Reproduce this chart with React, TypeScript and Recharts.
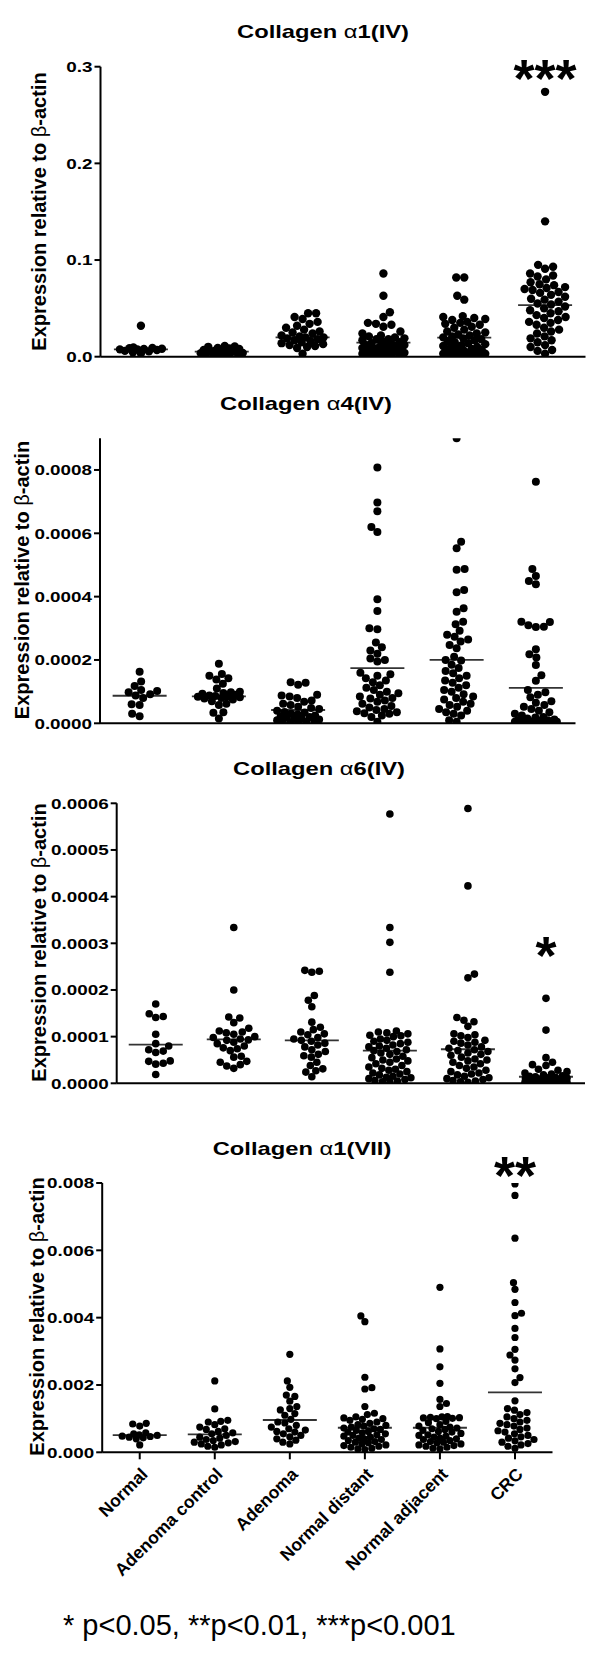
import React from 'react';
import { ScatterChart, Scatter, XAxis, YAxis, ReferenceLine, ReferenceDot } from 'recharts';

// ---------------- DATA ----------------
const CATEGORIES = ['Normal', 'Adenoma control', 'Adenoma', 'Normal distant', 'Normal adjacent', 'CRC'];

// Collagen α1(IV) – raw values
const ALPHA1_IV: number[][] = [
  [0.032, 0.0095, 0.009, 0.0088, 0.0082, 0.008, 0.0076, 0.0075, 0.007, 0.006, 0.0055, 0.0045, 0.0032],
  [0.011, 0.0105, 0.0102, 0.009, 0.0085, 0.008, 0.007, 0.0065, 0.006, 0.0055, 0.005, 0.0045, 0.004, 0.0038, 0.0035, 0.003, 0.003, 0.0025, 0.002, 0.002],
  [0.045, 0.045, 0.041, 0.039, 0.036, 0.034, 0.032, 0.03, 0.028, 0.026, 0.025, 0.024, 0.022, 0.021, 0.02, 0.02, 0.019, 0.018, 0.017, 0.016, 0.015, 0.014, 0.013, 0.012, 0.011, 0.01, 0.009, 0.003],
  [0.086, 0.063, 0.046, 0.041, 0.035, 0.034, 0.033, 0.031, 0.026, 0.024, 0.022, 0.021, 0.02, 0.019, 0.018, 0.018, 0.017, 0.016, 0.015, 0.014, 0.013, 0.012, 0.012, 0.011, 0.01, 0.01, 0.009, 0.009, 0.008, 0.008, 0.007, 0.007, 0.006, 0.006, 0.005, 0.005, 0.004, 0.004, 0.004, 0.003, 0.003, 0.002, 0.002, 0.002, 0.001],
  [0.082, 0.082, 0.063, 0.059, 0.042, 0.041, 0.04, 0.039, 0.038, 0.036, 0.035, 0.034, 0.033, 0.031, 0.03, 0.028, 0.026, 0.025, 0.024, 0.023, 0.022, 0.021, 0.02, 0.019, 0.018, 0.017, 0.016, 0.015, 0.014, 0.013, 0.012, 0.011, 0.01, 0.009, 0.008, 0.008, 0.007, 0.006, 0.006, 0.005, 0.005, 0.004, 0.004, 0.003, 0.003, 0.002, 0.002, 0.001, 0.001, 0.001],
  [0.274, 0.14, 0.095, 0.093, 0.091, 0.086, 0.084, 0.083, 0.08, 0.077, 0.075, 0.074, 0.072, 0.071, 0.07, 0.069, 0.067, 0.066, 0.064, 0.062, 0.06, 0.059, 0.057, 0.055, 0.054, 0.052, 0.05, 0.048, 0.047, 0.045, 0.043, 0.041, 0.04, 0.038, 0.036, 0.035, 0.033, 0.03, 0.028, 0.026, 0.024, 0.021, 0.019, 0.017, 0.015, 0.012, 0.01, 0.007, 0.006, 0.003],
];
const ALPHA1_IV_LINES = [0.0076, 0.0052, 0.02, 0.0145, 0.0197, 0.0534];
const ALPHA1_IV_TICKS = [0, 0.1, 0.2, 0.3];

// Collagen α4(IV) – values in units of 1e-4
const ALPHA4_IV_E4: number[][] = [
  [1.63, 1.32, 1.18, 1.05, 1.02, 0.98, 0.92, 0.88, 0.8, 0.6, 0.58, 0.3, 0.22],
  [1.88, 1.56, 1.5, 1.42, 1.38, 1.25, 1.1, 1.0, 0.98, 0.96, 0.93, 0.9, 0.88, 0.86, 0.85, 0.84, 0.82, 0.8, 0.78, 0.75, 0.7, 0.62, 0.58, 0.35, 0.33, 0.15],
  [1.3, 1.28, 1.22, 0.9, 0.88, 0.85, 0.8, 0.72, 0.68, 0.62, 0.58, 0.52, 0.48, 0.45, 0.4, 0.36, 0.34, 0.3, 0.28, 0.25, 0.22, 0.2, 0.18, 0.16, 0.14, 0.12, 0.1, 0.08, 0.06, 0.05, 0.03, 0.02],
  [8.08, 6.97, 6.7, 6.2, 6.04, 3.92, 3.55, 3.0, 2.97, 2.55, 2.4, 2.3, 2.2, 2.05, 2.0, 1.95, 1.6, 1.55, 1.5, 1.42, 1.35, 1.3, 1.2, 1.12, 1.05, 1.0, 0.95, 0.9, 0.85, 0.8, 0.78, 0.72, 0.68, 0.62, 0.55, 0.5, 0.45, 0.42, 0.38, 0.35, 0.32, 0.3, 0.25, 0.2, 0.05],
  [9.0, 5.73, 5.53, 4.87, 4.85, 4.21, 4.14, 3.63, 3.52, 3.21, 3.13, 2.92, 2.8, 2.73, 2.65, 2.58, 2.47, 2.37, 2.1, 2.0, 1.98, 1.85, 1.75, 1.65, 1.58, 1.5, 1.42, 1.35, 1.28, 1.2, 1.12, 1.05, 1.0, 0.92, 0.85, 0.8, 0.75, 0.68, 0.62, 0.58, 0.52, 0.45, 0.4, 0.35, 0.3, 0.25, 0.1, 0.05],
  [7.63, 4.87, 4.65, 4.49, 4.39, 3.21, 3.2, 3.1, 3.05, 3.04, 2.34, 2.18, 2.08, 1.84, 1.52, 1.34, 1.05, 0.98, 0.9, 0.82, 0.7, 0.65, 0.58, 0.52, 0.45, 0.4, 0.35, 0.3, 0.25, 0.2, 0.18, 0.15, 0.12, 0.1, 0.1, 0.08, 0.07, 0.06, 0.05, 0.05, 0.04, 0.03, 0.03, 0.02, 0.02],
];
const ALPHA4_IV_LINES_E4 = [0.87, 0.85, 0.42, 1.74, 2.0, 1.12];
const ALPHA4_IV_TICKS = [0, 0.0002, 0.0004, 0.0006, 0.0008];

// Collagen α6(IV) – values in units of 1e-4
const ALPHA6_IV_E4: number[][] = [
  [1.7, 1.49, 1.43, 1.41, 1.05, 0.85, 0.8, 0.72, 0.69, 0.66, 0.48, 0.47, 0.43, 0.41, 0.19],
  [3.34, 2.0, 1.42, 1.4, 1.3, 1.18, 1.12, 1.1, 1.08, 1.05, 1.0, 0.98, 0.95, 0.93, 0.92, 0.88, 0.85, 0.8, 0.76, 0.74, 0.7, 0.58, 0.56, 0.47, 0.45, 0.4, 0.37, 0.32],
  [2.42, 2.4, 2.38, 1.88, 1.78, 1.64, 1.31, 1.2, 1.15, 1.1, 1.06, 1.04, 0.98, 0.95, 0.92, 0.9, 0.86, 0.82, 0.78, 0.72, 0.68, 0.62, 0.59, 0.56, 0.45, 0.38, 0.31, 0.27, 0.24, 0.14],
  [5.77, 3.34, 3.02, 2.38, 1.12, 1.1, 1.08, 1.06, 1.03, 1.02, 1.0, 0.95, 0.92, 0.9, 0.88, 0.85, 0.82, 0.8, 0.78, 0.75, 0.72, 0.7, 0.68, 0.65, 0.62, 0.58, 0.55, 0.52, 0.5, 0.48, 0.45, 0.42, 0.38, 0.35, 0.32, 0.3, 0.28, 0.25, 0.22, 0.2, 0.18, 0.15, 0.13, 0.12, 0.1, 0.08, 0.06, 0.05, 0.03, 0.02],
  [5.89, 4.23, 2.34, 2.26, 1.41, 1.35, 1.32, 1.22, 1.06, 1.04, 1.02, 0.98, 0.92, 0.9, 0.88, 0.86, 0.82, 0.78, 0.75, 0.72, 0.7, 0.68, 0.65, 0.62, 0.6, 0.56, 0.52, 0.5, 0.48, 0.45, 0.42, 0.38, 0.35, 0.32, 0.28, 0.25, 0.22, 0.2, 0.18, 0.15, 0.12, 0.1, 0.08, 0.06, 0.05, 0.03, 0.02],
  [1.82, 1.14, 0.55, 0.45, 0.4, 0.38, 0.3, 0.28, 0.25, 0.22, 0.2, 0.18, 0.16, 0.15, 0.14, 0.13, 0.12, 0.11, 0.1, 0.09, 0.08, 0.07, 0.06, 0.06, 0.05, 0.05, 0.04, 0.04, 0.03, 0.03, 0.03, 0.02, 0.02, 0.02, 0.01, 0.01, 0.01, 0.01],
];
const ALPHA6_IV_LINES_E4 = [0.83, 0.94, 0.92, 0.7, 0.73, 0.14];
const ALPHA6_IV_TICKS = [0, 0.0001, 0.0002, 0.0003, 0.0004, 0.0005, 0.0006];

// Collagen α1(VII) – values in units of 1e-3
const ALPHA1_VII_E3: number[][] = [
  [0.86, 0.84, 0.78, 0.58, 0.55, 0.52, 0.5, 0.48, 0.47, 0.45, 0.43, 0.4, 0.22],
  [2.12, 1.29, 0.95, 0.92, 0.9, 0.82, 0.75, 0.7, 0.68, 0.62, 0.58, 0.55, 0.5, 0.45, 0.42, 0.38, 0.35, 0.32, 0.3, 0.28, 0.25, 0.22, 0.18, 0.15],
  [2.91, 2.12, 1.93, 1.7, 1.66, 1.52, 1.36, 1.3, 1.26, 1.15, 1.1, 0.98, 0.9, 0.87, 0.8, 0.75, 0.7, 0.66, 0.62, 0.6, 0.55, 0.5, 0.46, 0.4, 0.36, 0.3, 0.25],
  [4.05, 3.88, 2.23, 1.92, 1.88, 1.36, 1.16, 1.12, 1.05, 1.02, 1.0, 0.98, 0.95, 0.9, 0.86, 0.82, 0.8, 0.78, 0.75, 0.72, 0.7, 0.68, 0.65, 0.62, 0.6, 0.58, 0.55, 0.52, 0.5, 0.48, 0.45, 0.42, 0.4, 0.38, 0.35, 0.32, 0.3, 0.28, 0.25, 0.22, 0.2, 0.18, 0.15, 0.12, 0.1, 0.08],
  [4.9, 3.07, 2.54, 2.05, 1.57, 1.45, 1.36, 1.06, 1.05, 1.04, 1.03, 1.02, 1.01, 1.0, 0.92, 0.88, 0.82, 0.78, 0.75, 0.72, 0.7, 0.68, 0.65, 0.62, 0.6, 0.56, 0.52, 0.5, 0.48, 0.45, 0.42, 0.4, 0.38, 0.35, 0.32, 0.3, 0.28, 0.25, 0.22, 0.2, 0.18, 0.15, 0.12, 0.1],
  [7.97, 7.63, 6.36, 5.04, 4.84, 4.45, 4.13, 4.06, 3.68, 3.41, 3.06, 2.89, 2.74, 2.48, 2.22, 2.07, 1.53, 1.3, 1.25, 1.18, 1.12, 1.05, 1.0, 0.95, 0.9, 0.86, 0.82, 0.78, 0.72, 0.68, 0.64, 0.6, 0.55, 0.5, 0.46, 0.42, 0.38, 0.34, 0.3, 0.26, 0.22, 0.18, 0.12],
];
const ALPHA1_VII_LINES_E3 = [0.51, 0.53, 0.96, 0.73, 0.73, 1.78];
const ALPHA1_VII_TICKS = [0, 0.002, 0.004, 0.006, 0.008];

const Y_TITLE = 'Expression relative to ';
const FOOTNOTE = '* p<0.05, **p<0.01, ***p<0.001';

// ---------------- LAYOUT ----------------
const FONT = '"Liberation Sans", Arial, Helvetica, sans-serif';
const Y_AXIS_W = 90;

type Panel = {
  title: [string, string, string];
  groups: number[][];
  lines: number[];
  unit: number;
  max: number;
  ticks: number[];
  digits: number;
  star?: string;
  starY?: number;
  top: number; height: number;
  xL: number; xR: number; yT: number; yB: number;
  r: number; xAxisH: number; cats: boolean;
  titleX: number; titleY: number; labelX: number; labelY: number;
};

const PANELS: Panel[] = [
  {
    title: ['Collagen ', 'α', '1(IV)'], groups: ALPHA1_IV, lines: ALPHA1_IV_LINES, unit: 1, max: 0.3,
    ticks: ALPHA1_IV_TICKS, digits: 1, star: '***', starY: 0.3,
    top: 0, height: 380, xL: 100.5, xR: 585.5, yT: 66.7, yB: 356.7, r: 4.2, xAxisH: 5, cats: false,
    titleX: 323, titleY: 31, labelX: 39, labelY: 211.5,
  },
  {
    title: ['Collagen ', 'α', '4(IV)'], groups: ALPHA4_IV_E4, lines: ALPHA4_IV_LINES_E4, unit: 1e-4, max: 0.0009,
    ticks: ALPHA4_IV_TICKS, digits: 4,
    top: 380, height: 360, xL: 100, xR: 575.5, yT: 438.3, yB: 723.3, r: 4, xAxisH: 5, cats: false,
    titleX: 306, titleY: 403, labelX: 22, labelY: 580,
  },
  {
    title: ['Collagen ', 'α', '6(IV)'], groups: ALPHA6_IV_E4, lines: ALPHA6_IV_LINES_E4, unit: 1e-4, max: 0.0006,
    ticks: ALPHA6_IV_TICKS, digits: 4, star: '*', starY: 0.0003,
    top: 745, height: 350, xL: 116.7, xR: 585, yT: 803.3, yB: 1083.3, r: 3.8, xAxisH: 5, cats: false,
    titleX: 319, titleY: 768, labelX: 39, labelY: 942.5,
  },
  {
    title: ['Collagen ', 'α', '1(VII)'], groups: ALPHA1_VII_E3, lines: ALPHA1_VII_LINES_E3, unit: 1e-3, max: 0.008,
    ticks: ALPHA1_VII_TICKS, digits: 3, star: '**', starY: 0.0086,
    top: 1120, height: 530, xL: 102.2, xR: 552.5, yT: 1183, yB: 1452.3, r: 3.6, xAxisH: 180, cats: true,
    titleX: 302, titleY: 1148, labelX: 37, labelY: 1316.5,
  },
];

// beeswarm layout of values in a column (pixel offsets)
function swarmOffsets(vals: number[], pxPerUnit: number, r: number, maxHalf: number): number[] {
  const d = 2 * r * 0.95;
  const order = vals.map((_, i) => i).sort((a, b) => vals[a] - vals[b]);
  const placed: { x: number; y: number }[] = [];
  const out = new Array(vals.length).fill(0);
  const step = 0.5;
  for (const i of order) {
    const y = vals[i] * pxPerUnit;
    const near = placed.filter((p) => Math.abs(p.y - y) < d);
    const minDist = (x: number) =>
      near.reduce((m, p) => Math.min(m, Math.hypot(p.x - x, p.y - y)), Infinity);
    let chosen: number | null = null;
    const flip = placed.length % 2 === 0 ? 1 : -1;
    for (let k = 0; k * step <= maxHalf && chosen === null; k++) {
      const o = k * step;
      const signs = k === 0 ? [1] : [flip, -flip];
      for (const s of signs) {
        if (minDist(s * o) >= d) { chosen = s * o; break; }
      }
    }
    if (chosen === null) {
      let best = 0; let bestD = -1;
      for (let o = -maxHalf; o <= maxHalf; o += step) {
        const md = minDist(o);
        if (md > bestD + 0.01) { bestD = md; best = o; }
      }
      chosen = best;
    }
    out[i] = chosen;
    placed.push({ x: chosen, y });
  }
  return out;
}

function PanelChart({ p }: { p: Panel }) {
  const band = (p.xR - p.xL) / 6;
  const pxPerUnit = (p.yB - p.yT) / p.max;
  const series = p.groups.map((vals, gi) => {
    const raw = vals.map((v) => v * p.unit);
    const offs = swarmOffsets(raw, pxPerUnit, p.r, 21);
    return raw.map((y, i) => ({ x: gi + offs[i] / band, y }));
  });
  const margin = {
    top: p.yT - p.top,
    bottom: p.top + p.height - p.yB - p.xAxisH,
    left: p.xL - Y_AXIS_W,
    right: 600 - p.xR,
  };
  const half = 27 / band;
  const R = p.r;
  const YTick = (props: any) => {
    const { x, y, payload } = props;
    return (
      <text transform={`translate(${x} ${y}) scale(1.3 1)`} textAnchor="end" dy="0.36em"
        fontSize={14.5} fontWeight="bold" fontFamily={FONT} fill="#000">
        {Number(payload.value).toFixed(p.digits)}
      </text>
    );
  };
  const CatTick = (props: any) => {
    const { x, y, payload } = props;
    return (
      <text transform={`translate(${x + 9} ${y + 14}) rotate(-45)`} textAnchor="end"
        fontSize={17.5} fontWeight="bold" fontFamily={FONT} fill="#000">
        {CATEGORIES[payload.value]}
      </text>
    );
  };
  return (
    <div style={{ position: 'absolute', left: 0, top: p.top }}>
      <ScatterChart width={600} height={p.height} margin={margin}>
        <XAxis type="number" dataKey="x" domain={[-0.5, 5.5]} ticks={[0, 1, 2, 3, 4, 5]} interval={0}
          height={p.xAxisH} allowDataOverflow
          axisLine={{ stroke: '#000', strokeWidth: 2 }}
          tickLine={p.cats ? { stroke: '#000', strokeWidth: 2 } : false}
          tickSize={7}
          tick={p.cats ? CatTick : false} />
        <YAxis type="number" dataKey="y" domain={[0, p.max]} ticks={p.ticks} interval={0}
          width={Y_AXIS_W} allowDataOverflow
          axisLine={{ stroke: '#000', strokeWidth: 2 }}
          tickLine={{ stroke: '#000', strokeWidth: 2 }}
          tickSize={6} tickMargin={2} tick={YTick} />
        {series.map((data, gi) => (
          <Scatter key={gi} data={data} isAnimationActive={false}
            shape={(sp: any) => <circle cx={sp.cx} cy={sp.cy} r={R} fill="#000" />} />
        ))}
        {p.lines.map((m, gi) => (
          <ReferenceLine key={'l' + gi} segment={[{ x: gi - half, y: m * p.unit }, { x: gi + half, y: m * p.unit }]}
            stroke="#333" strokeWidth={1.8} ifOverflow="visible" />
        ))}
        {p.star && (
          <ReferenceDot x={5} y={p.starY!} r={0} ifOverflow="visible"
            shape={(sp: any) => (
              <text x={sp.cx} y={sp.cy + 0.57 * 54} textAnchor="middle" fontSize={54}
                fontWeight="bold" fontFamily={FONT} fill="#000">{p.star}</text>
            )} />
        )}
      </ScatterChart>
    </div>
  );
}

export default function App() {
  return (
    <div style={{ position: 'absolute', left: 0, top: 0, width: 600, height: 1664, background: '#fff', fontFamily: FONT }}>
      {PANELS.map((p, i) => <PanelChart key={i} p={p} />)}
      <svg width={600} height={1664} style={{ position: 'absolute', left: 0, top: 0, pointerEvents: 'none' }}>
        {PANELS.map((p, i) => (
          <g key={i}>
            <text transform={`translate(${p.titleX} ${p.titleY + 6.8}) scale(1.25 1)`} textAnchor="middle"
              fontSize={19} fontWeight="bold" fontFamily={FONT} fill="#000">
              {p.title[0]}<tspan fontWeight="normal">{p.title[1]}</tspan>{p.title[2]}
            </text>
            <text transform={`translate(${p.labelX} ${p.labelY}) rotate(-90)`} textAnchor="middle"
              dominantBaseline="central" fontSize={20} fontWeight="bold" fontFamily={FONT} fill="#000">
              {Y_TITLE}<tspan fontWeight="normal">β</tspan>-actin
            </text>
          </g>
        ))}
        <text x={63} y={1635} fontSize={29} fontFamily={FONT} fill="#000">{FOOTNOTE}</text>
      </svg>
    </div>
  );
}
